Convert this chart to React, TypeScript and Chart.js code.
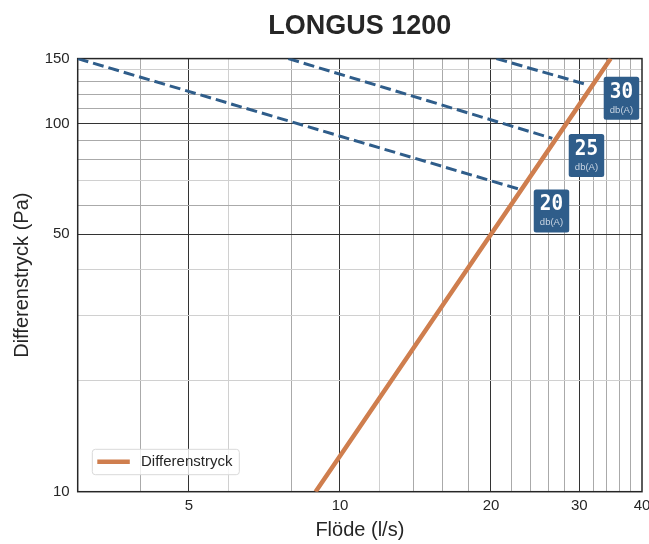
import { useEffect, useRef } from "react";
import { Chart, registerables } from "chart.js";

Chart.register(...registerables);

const FONT = "'Liberation Sans', Arial, sans-serif";
const MONO = "'DejaVu Sans Mono', monospace";
const TEXT = "#262626";
const ORANGE = "#cf7e4e";
const BLUE = "#2f5d8a";

const chartTitle = "LONGUS 1200";
const xTitle = "Flöde (l/s)";
const yTitle = "Differenstryck (Pa)";
const legendLabel = "Differenstryck";

const xMin = 3;
const xMax = 40;
const yMin = 10;
const yMax = 150;

const xTickLabels = [5, 10, 20, 30, 40];
const xMajorGrid = [5, 10, 20, 30];
const xMinorGrid = [4, 6, 8, 12, 14, 16, 18, 22, 24, 26, 28, 32, 34, 36, 38];
const xLightGrid = [6, 12];

const yTickLabels = [10, 50, 100, 150];
const yMajorGrid = [50, 100];
const yMinorGrid = [20, 30, 40, 60, 70, 80, 90, 110, 120, 130, 140];
const yLightGrid = [20, 30, 40, 70, 140];

// Differenstryck (solid orange)
const flowX = [8.94, 10, 20, 30, 34.64];
const flowY = [10, 12.5, 50, 112.5, 150];

// Sound level lines (dashed)
const d20X = [3, 22.7];
const d20Y = [150, 66.4];
const d25X = [7.89, 26.5];
const d25Y = [150, 91.1];
const d30X = [20.5, 31.3];
const d30Y = [150, 127.1];

// Sound level tags
const tagText = ["20", "25", "30"];
const tagUnit = "db(A)";
const tagX = [26.4, 31.0, 36.4];
const tagY = [57.8, 81.9, 117.0];

const pts = (xs: number[], ys: number[]) => xs.map((x, i) => ({ x, y: ys[i] }));

const gridColor = (major: number[], minor: number[], light: number[]) => (ctx: any) => {
  const v = ctx.tick ? ctx.tick.value : null;
  if (v == null) return "rgba(0,0,0,0)";
  if (major.includes(v)) return "#333333";
  if (light.includes(v)) return "#d0d0d0";
  if (minor.includes(v)) return "#aaaaaa";
  return "rgba(0,0,0,0)";
};

const decor = {
  id: "decor",
  beforeDatasetsDraw(chart: any) {
    const { ctx, chartArea } = chart;
    const { left, top, right, bottom } = chartArea;
    ctx.save();
    ctx.strokeStyle = TEXT;
    ctx.lineWidth = 1.5;
    ctx.strokeRect(left, top, right - left, bottom - top);
    ctx.restore();
  },
  afterDatasetsDraw(chart: any) {
    const { ctx, chartArea, scales } = chart;
    const { left, bottom } = chartArea;
    ctx.save();
    // tags
    const bw = 35.5;
    const bh = 43;
    tagText.forEach((t, i) => {
      const cx = scales.x.getPixelForValue(tagX[i]);
      const cy = scales.y.getPixelForValue(tagY[i]);
      ctx.fillStyle = BLUE;
      ctx.beginPath();
      ctx.roundRect(cx - bw / 2, cy - bh / 2, bw, bh, 2.5);
      ctx.fill();
      ctx.fillStyle = "#ffffff";
      ctx.textAlign = "center";
      ctx.textBaseline = "middle";
      ctx.save();
      ctx.translate(cx, cy - 6.5);
      ctx.scale(0.88, 1);
      ctx.font = `bold 22px ${MONO}`;
      ctx.fillText(t, 0, 0);
      ctx.restore();
      ctx.fillStyle = "#c9d5e3";
      ctx.font = `9.5px ${FONT}`;
      ctx.fillText(tagUnit, cx, cy + 11.7);
    });
    // legend
    const lx = left + 14.6;
    const ly = bottom - 42.4;
    ctx.beginPath();
    ctx.roundRect(lx, ly, 147, 25.4, 3);
    ctx.fillStyle = "rgba(255,255,255,0.8)";
    ctx.fill();
    ctx.strokeStyle = "#d9d9d9";
    ctx.lineWidth = 1;
    ctx.stroke();
    ctx.beginPath();
    ctx.strokeStyle = ORANGE;
    ctx.lineWidth = 4.5;
    ctx.moveTo(lx + 5, ly + 12.4);
    ctx.lineTo(lx + 37.5, ly + 12.4);
    ctx.stroke();
    ctx.fillStyle = TEXT;
    ctx.font = `15px ${FONT}`;
    ctx.textAlign = "left";
    ctx.textBaseline = "middle";
    ctx.fillText(legendLabel, lx + 48.7, ly + 12.8);
    ctx.restore();
  },
  afterDraw(chart: any) {
    const { ctx, chartArea } = chart;
    const { left, top, right, bottom } = chartArea;
    const cx = (left + right) / 2;
    const cy = (top + bottom) / 2;
    ctx.save();
    ctx.fillStyle = TEXT;
    ctx.textAlign = "center";
    ctx.textBaseline = "middle";
    ctx.font = `bold 27px ${FONT}`;
    ctx.fillText(chartTitle, cx, 27);
    ctx.font = `20px ${FONT}`;
    ctx.fillText(xTitle, cx, 530);
    ctx.translate(22, cy);
    ctx.rotate(-Math.PI / 2);
    ctx.fillText(yTitle, 0, 0);
    ctx.restore();
  },
};

export default function App() {
  const ref = useRef<HTMLCanvasElement>(null);

  useEffect(() => {
    if (!ref.current) return;
    const xTicks = [...xMinorGrid, ...xMajorGrid, xMax].sort((a, b) => a - b);
    const yTicks = [yMin, ...yMinorGrid, ...yMajorGrid, yMax].sort((a, b) => a - b);
    const dash = [11, 5];
    const dashed = (label: string, xs: number[], ys: number[]) => ({
      label,
      data: pts(xs, ys),
      borderColor: BLUE,
      borderWidth: 3,
      borderDash: dash,
      pointRadius: 0,
    });
    const chart = new Chart(ref.current, {
      type: "line",
      data: {
        datasets: [
          {
            label: legendLabel,
            data: pts(flowX, flowY),
            borderColor: ORANGE,
            borderWidth: 4.5,
            pointRadius: 0,
            tension: 0,
          },
          dashed("20 db(A)", d20X, d20Y),
          dashed("25 db(A)", d25X, d25Y),
          dashed("30 db(A)", d30X, d30Y),
        ],
      },
      options: {
        animation: false,
        responsive: false,
        devicePixelRatio: 1,
        layout: { padding: { top: 58.6, right: 7, left: 0, bottom: 0 } },
        plugins: {
          legend: { display: false },
          title: { display: false },
          tooltip: { enabled: false },
        },
        scales: {
          x: {
            type: "logarithmic",
            min: xMin,
            max: xMax,
            afterBuildTicks: (scale: any) => {
              scale.ticks = xTicks.map((v) => ({ value: v }));
            },
            afterFit: (scale: any) => {
              scale.height = 52.3;
              scale.paddingLeft = 0;
              scale.paddingRight = 0;
            },
            border: { display: false },
            grid: {
              color: gridColor(xMajorGrid, xMinorGrid, xLightGrid),
              lineWidth: 1,
              drawTicks: false,
            },
            ticks: {
              autoSkip: false,
              maxRotation: 0,
              padding: 5,
              color: TEXT,
              font: { family: FONT, size: 15 },
              callback: (v: any) => (xTickLabels.includes(Number(v)) ? String(v) : ""),
            },
          },
          y: {
            type: "logarithmic",
            min: yMin,
            max: yMax,
            afterBuildTicks: (scale: any) => {
              scale.ticks = yTicks.map((v) => ({ value: v }));
            },
            afterFit: (scale: any) => {
              scale.width = 77.7;
              scale.paddingTop = 0;
              scale.paddingBottom = 0;
            },
            border: { display: false },
            grid: {
              color: gridColor(yMajorGrid, yMinorGrid, yLightGrid),
              lineWidth: 1,
              drawTicks: false,
            },
            ticks: {
              autoSkip: false,
              padding: 8,
              color: TEXT,
              font: { family: FONT, size: 15 },
              callback: (v: any) => (yTickLabels.includes(Number(v)) ? String(v) : ""),
            },
          },
        },
      },
      plugins: [decor],
    } as any);
    return () => chart.destroy();
  }, []);

  return (
    <div style={{ position: "absolute", left: 0, top: 0, width: 649, height: 544, background: "#fff" }}>
      <canvas ref={ref} width={649} height={544} style={{ display: "block" }} />
    </div>
  );
}
